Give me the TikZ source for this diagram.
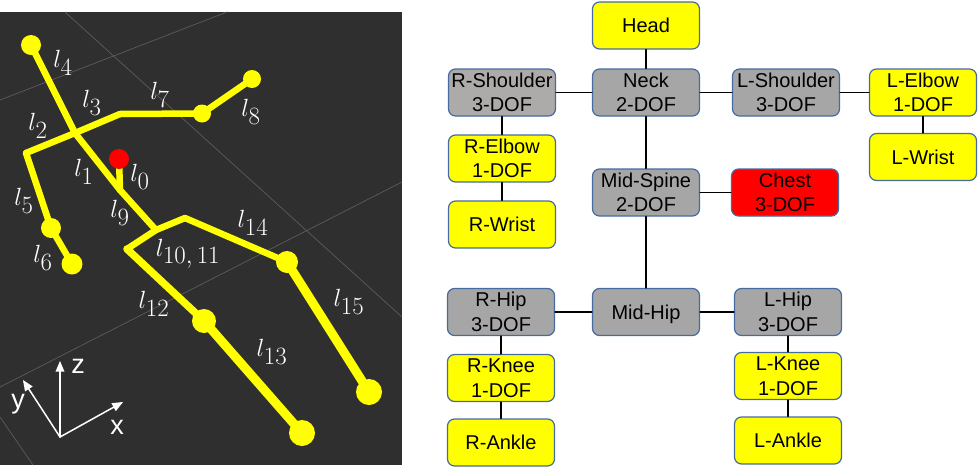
\documentclass[tikz,border=0pt]{standalone}
\usepackage[no-math]{fontspec}
\setmainfont{Liberation Sans}
\usetikzlibrary{arrows}
\DeclareMathSizes{33}{33}{24}{18}
\definecolor{ffffqq}{rgb}{1,1,0}
\definecolor{ffqqqq}{rgb}{1,0,0}
\definecolor{aaaaaa}{rgb}{0.65,0.65,0.65}
\definecolor{aeaaaa}{rgb}{0.68,0.667,0.667}
\definecolor{qqqbbb}{rgb}{0.184,0.184,0.184}
\definecolor{ggglll}{rgb}{0.36,0.36,0.36}
\definecolor{ddaabb}{rgb}{0.27,0.42,0.63}
\tikzset{
	jointbox/.style={draw=ddaabb,line width=1.2pt,rounded corners=7pt,minimum width=107pt,minimum height=47pt,inner sep=0pt,align=center,text=black,font=\fontsize{20}{24.5}\selectfont},
	graybox/.style={jointbox,fill=aaaaaa},
	yellowbox/.style={jointbox,fill=ffffqq},
	redbox/.style={jointbox,fill=ffqqqq},
	oneline/.style={text height=14.3pt,text depth=0pt},
	link/.style={line width=1.3pt,color=black},
	gridline/.style={line width=0.7pt,color=ggglll},
	bone/.style={line width=6.5pt,color=ffffqq},
	legbone/.style={line width=9pt,color=ffffqq},
	linklabel/.style={text=white,inner sep=0pt,font=\fontsize{33}{35}\selectfont},
	axislabel/.style={text=white,inner sep=0pt,font=\fontsize{27}{29}\selectfont},
	axisarrow/.style={->,line width=1.5pt,color=white}
}
\begin{document}
\begin{tikzpicture}[line cap=round,line join=round,>=triangle 45,x=1pt,y=-1pt]
	\useasboundingbox (0,0) rectangle (980,469);
	\fill[color=qqqbbb] (0,12) rectangle (402,465);
	\draw[gridline] (65,12)-- (402,317);
	\draw[gridline] (0,100)-- (227,12);
	\draw[gridline] (0,387)-- (402,182);
	\draw[gridline] (0,417)-- (33,465);
	\coordinate (head) at (31,45);
	\coordinate (neck) at (75,133);
	\coordinate (rshoulder) at (26,153);
	\coordinate (lshoulder) at (120,114);
	\coordinate (lelbow) at (202,113.5);
	\coordinate (lwrist) at (252,79);
	\coordinate (relbow) at (51,228);
	\coordinate (rwrist) at (72,264);
	\coordinate (chest) at (119,159);
	\coordinate (midspine) at (120,190);
	\coordinate (midhip) at (156,230);
	\coordinate (lhip) at (185,218);
	\coordinate (rhip) at (127,249);
	\coordinate (lknee) at (287,262);
	\coordinate (rknee) at (204,321);
	\coordinate (lankle) at (369,392);
	\coordinate (rankle) at (302,433);
	\draw[bone] (head)-- (neck);
	\draw[bone] (neck)-- (midspine);
	\draw[bone] (midspine)-- (midhip);
	\draw[bone] (chest)-- (midspine);
	\draw[bone] (rshoulder)-- (neck);
	\draw[bone] (neck)-- (lshoulder);
	\draw[bone] (lshoulder)-- (lelbow);
	\draw[bone] (lelbow)-- (lwrist);
	\draw[bone] (rshoulder)-- (relbow);
	\draw[bone] (relbow)-- (rwrist);
	\draw[bone] (rhip)-- (midhip);
	\draw[bone] (midhip)-- (lhip);
	\draw[bone] (lhip)-- (lknee);
	\draw[line width=7.5pt,color=ffffqq] (rhip)-- (rknee);
	\draw[legbone] (rknee)-- (rankle);
	\draw[legbone] (lknee)-- (lankle);
	\fill[color=ffffqq] (head) circle (10pt);
	\fill[color=ffffqq] (lelbow) circle (9pt);
	\fill[color=ffffqq] (lwrist) circle (9pt);
	\fill[color=ffffqq] (relbow) circle (10pt);
	\fill[color=ffffqq] (rwrist) circle (10.5pt);
	\fill[color=ffffqq] (lknee) circle (11pt);
	\fill[color=ffffqq] (rknee) circle (12pt);
	\fill[color=ffffqq] (lankle) circle (13pt);
	\fill[color=ffffqq] (rankle) circle (13pt);
	\fill[color=ffqqqq] (chest) circle (10pt);
	\node[linklabel] (l0) at (140,177) {$l_{0}$};
	\node[linklabel] (l1) at (84,172) {$l_{1}$};
	\node[linklabel] (l2) at (38,126) {$l_{2}$};
	\node[linklabel] (l3) at (92,103) {$l_{3}$};
	\node[linklabel] (l4) at (63,63) {$l_{4}$};
	\node[linklabel] (l5) at (24,201) {$l_{5}$};
	\node[linklabel] (l6) at (43,258) {$l_{6}$};
	\node[linklabel] (l7) at (160,95) {$l_{7}$};
	\node[linklabel] (l8) at (251,112) {$l_{8}$};
	\node[linklabel] (l9) at (120,213) {$l_{9}$};
	\node[linklabel] (l10) at (188,254) {$l_{10,\,11}$};
	\node[linklabel] (l12) at (154,304) {$l_{12}$};
	\node[linklabel] (l13) at (272,352) {$l_{13}$};
	\node[linklabel] (l14) at (253,223) {$l_{14}$};
	\node[linklabel] (l15) at (349,302) {$l_{15}$};
	\coordinate (origin) at (60,437);
	\coordinate (xtip) at (123,402);
	\coordinate (ytip) at (23,380);
	\coordinate (ztip) at (60,361);
	\draw[axisarrow] (origin)-- (xtip);
	\draw[axisarrow] (origin)-- (ytip);
	\draw[axisarrow] (origin)-- (ztip);
	\node[axislabel] (xlabel) at (117,427) {x};
	\node[axislabel] (ylabel) at (18,404) {y};
	\node[axislabel] (zlabel) at (78,366) {z};
	\node[yellowbox,oneline] (headbox) at (646,25.5) {Head};
	\node[graybox] (neckbox) at (646,92.5) {Neck\\2-DOF};
	\node[graybox,fill=aeaaaa] (rshoulderbox) at (502,92.5) {R-Shoulder\\3-DOF};
	\node[graybox] (lshoulderbox) at (786,92.5) {L-Shoulder\\3-DOF};
	\node[yellowbox] (lelbowbox) at (923,92.5) {L-Elbow\\1-DOF};
	\node[yellowbox,oneline] (lwristbox) at (923,157) {L-Wrist};
	\node[yellowbox] (relbowbox) at (502,158.5) {R-Elbow\\1-DOF};
	\node[yellowbox,oneline] (rwristbox) at (502,224.5) {R-Wrist};
	\node[graybox] (midspinebox) at (646,192.5) {Mid-Spine\\2-DOF};
	\node[redbox] (chestbox) at (785,192.5) {Chest\\3-DOF};
	\node[graybox,oneline] (midhipbox) at (646,312) {Mid-Hip};
	\node[graybox] (rhipbox) at (501,312) {R-Hip\\3-DOF};
	\node[graybox] (lhipbox) at (788,312) {L-Hip\\3-DOF};
	\node[yellowbox] (rkneebox) at (501,378) {R-Knee\\1-DOF};
	\node[yellowbox,oneline] (ranklebox) at (501,442.5) {R-Ankle};
	\node[yellowbox] (lkneebox) at (788,376) {L-Knee\\1-DOF};
	\node[yellowbox,oneline] (lanklebox) at (788,440.5) {L-Ankle};
	\draw[link] (headbox)-- (neckbox);
	\draw[link] (rshoulderbox)-- (neckbox);
	\draw[link] (neckbox)-- (lshoulderbox);
	\draw[link] (lshoulderbox)-- (lelbowbox);
	\draw[link] (lelbowbox)-- (lwristbox);
	\draw[link] (rshoulderbox)-- (relbowbox);
	\draw[link] (relbowbox)-- (rwristbox);
	\draw[link] (neckbox)-- (midspinebox);
	\draw[link] (midspinebox)-- (chestbox);
	\draw[link] (midspinebox)-- (midhipbox);
	\draw[link] (rhipbox)-- (midhipbox);
	\draw[link] (midhipbox)-- (lhipbox);
	\draw[link] (rhipbox)-- (rkneebox);
	\draw[link] (rkneebox)-- (ranklebox);
	\draw[link] (lhipbox)-- (lkneebox);
	\draw[link] (lkneebox)-- (lanklebox);
\end{tikzpicture}
\end{document}
